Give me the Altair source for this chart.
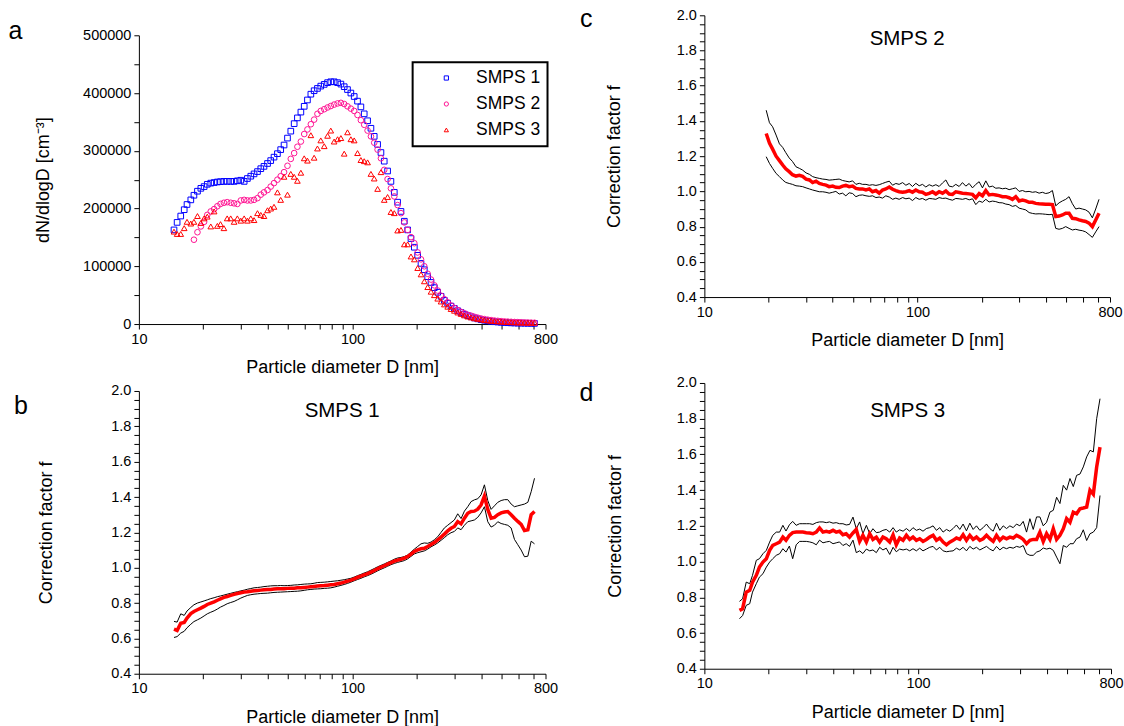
import altair as alt
import pandas as pd

FONT = "Liberation Sans, Arial, Helvetica, sans-serif"

# ---------------- data ----------------
# particle diameter bins [nm] (64 channels / decade)
D = [14.6, 15.1, 15.7, 16.3, 16.8, 17.5, 18.1, 18.8, 19.5, 20.2,
     20.9, 21.7, 22.5, 23.3, 24.1, 25.0, 25.9, 26.9, 27.9, 28.9,
     30.0, 31.1, 32.2, 33.4, 34.6, 35.9, 37.2, 38.5, 40.0, 41.4,
     42.9, 44.5, 46.1, 47.8, 49.6, 51.4, 53.3, 55.2, 57.3, 59.4,
     61.5, 63.8, 66.1, 68.5, 71.0, 73.7, 76.4, 79.1, 82.0, 85.1,
     88.2, 91.4, 94.7, 98.2, 101.8, 105.5, 109.4, 113.4, 117.6, 121.9,
     126.3, 131.0, 135.8, 140.7, 145.9, 151.2, 156.8, 162.5, 168.5, 174.7,
     181.1, 187.7, 194.6, 201.7, 209.1, 216.7, 224.7, 232.9, 241.4, 250.3,
     259.5, 269.0, 278.8, 289.0, 299.6, 310.6, 322.0, 333.8, 346.0, 358.7,
     371.8, 385.4, 399.5, 414.2, 429.4, 445.1, 461.4, 478.3, 495.8, 514.0,
     532.8, 552.3, 572.5, 593.5, 615.3, 637.8, 661.2, 685.4, 710.5]

# dN/dlogD in 1000 cm^-3
smps1 = [163, 176, 187, 198, 207, 215, 223, 230, 235, 238,
         242, 244, 245, 246, 246.5, 247, 247, 247, 247, 248,
         249, 247, 252, 256, 260, 264, 269, 273, 278, 283,
         289, 295, 302, 310, 322, 334, 347, 357, 367, 377,
         388, 398, 404, 408, 412, 415, 418, 419.5, 419.5, 418,
         415.5, 411, 406, 400, 394, 386, 376, 364, 352, 339,
         325, 311, 297, 282, 265, 247, 228, 211, 195, 178,
         163, 148, 133, 119, 105, 94, 82, 72, 63, 55,
         48, 41, 36, 31, 27, 23, 20, 17, 14.5, 12.5,
         10.5, 9, 7.5, 6.5, 5.5, 4.7, 4, 3.5, 3, 2.6,
         2.3, 2, 1.8, 1.6, 1.5, 1.4, 1.3, 1.2, 1.1]
SMPS2_START = 6
smps2 = [146, 159, 169, 177,
         189, 195, 199, 204, 208, 210, 211, 210, 209, 208,
         214, 215, 214, 214, 215, 218, 224, 228, 232, 238,
         244, 250, 256, 263, 274, 286, 296, 307, 316, 329,
         337, 346, 354, 364, 369, 372, 375, 377.5, 380, 382,
         383, 381, 377, 373, 369, 362, 353, 345, 335, 325,
         314, 302, 287, 267, 251, 235, 221, 206, 192, 176,
         163, 150.5, 140, 124, 112, 100, 87, 77, 67, 58,
         49, 43, 37.5, 32, 27.7, 24, 21, 18.5, 16, 14.4,
         12.5, 11, 9.5, 8.5, 7.5, 6.8, 6, 5.5, 5, 4.5,
         4.2, 3.8, 3.5, 3.3, 3, 2.8, 2.6, 2.4, 2.2]
smps3 = [160, 156, 156, 166, 177, 174, 177, 187, 175, 183,
         186, 169, 195, 170, 173, 166, 183, 183, 177, 183,
         179, 183, 179, 183, 180, 192, 189, 187, 197, 200,
         203, 228, 215, 255, 224, 260, 255, 248, 262, 287,
         283, 327, 288, 304, 318, 308, 326, 335, 316, 320,
         322, 295, 332, 320, 318, 296, 284, 282, 280, 260,
         252, 234, 263, 215, 220, 194, 192, 162, 163, 138,
         138, 117, 112, 97, 86, 74, 64, 56, 50, 44,
         39, 34, 30, 26, 23, 20, 17.5, 15, 13, 11.5,
         10, 9, 8, 7, 6.3, 5.6, 5, 4.6, 4.2, 3.8,
         3.5, 3.2, 3, 2.8, 2.6, 2.5, 2.4, 2.3, 2.2]

# correction factor f, SMPS 1 (mean, upper, lower)
b_mean = [0.652, 0.645, 0.686, 0.690, 0.715, 0.740, 0.752, 0.762, 0.771, 0.781,
          0.792, 0.800, 0.807, 0.816, 0.824, 0.832, 0.837, 0.843, 0.849, 0.854,
          0.858, 0.862, 0.864, 0.867, 0.869, 0.871, 0.873, 0.875, 0.877, 0.877,
          0.879, 0.881, 0.881, 0.881, 0.883, 0.884, 0.884, 0.886, 0.886, 0.888,
          0.890, 0.892, 0.894, 0.896, 0.898, 0.899, 0.901, 0.903, 0.905, 0.909,
          0.913, 0.918, 0.924, 0.930, 0.937, 0.945, 0.952, 0.960, 0.967, 0.975,
          0.984, 0.994, 1.003, 1.011, 1.020, 1.029, 1.037, 1.043, 1.048, 1.054,
          1.063, 1.077, 1.092, 1.101, 1.107, 1.110, 1.120, 1.131, 1.142, 1.157,
          1.173, 1.190, 1.208, 1.223, 1.233, 1.261, 1.248, 1.280, 1.308, 1.318,
          1.320, 1.331, 1.355, 1.405, 1.330, 1.280, 1.285, 1.300, 1.310, 1.315,
          1.318, 1.300, 1.280, 1.262, 1.245, 1.210, 1.214, 1.300, 1.318]
b_upper = [0.696, 0.692, 0.739, 0.730, 0.755, 0.775, 0.790, 0.800, 0.806, 0.812,
           0.818, 0.825, 0.830, 0.836, 0.840, 0.845, 0.850, 0.855, 0.860, 0.864,
           0.869, 0.873, 0.878, 0.882, 0.886, 0.888, 0.890, 0.893, 0.895, 0.897,
           0.898, 0.898, 0.899, 0.898, 0.899, 0.900, 0.902, 0.903, 0.905, 0.907,
           0.908, 0.909, 0.912, 0.916, 0.917, 0.918, 0.920, 0.922, 0.924, 0.926,
           0.929, 0.932, 0.936, 0.940, 0.947, 0.955, 0.962, 0.970, 0.977, 0.986,
           0.995, 1.005, 1.013, 1.021, 1.030, 1.038, 1.048, 1.055, 1.058, 1.063,
           1.072, 1.088, 1.105, 1.120, 1.135, 1.140, 1.138, 1.145, 1.158, 1.175,
           1.200, 1.225, 1.240, 1.255, 1.270, 1.305, 1.278, 1.320, 1.345, 1.374,
           1.384, 1.390, 1.412, 1.469, 1.380, 1.330, 1.350, 1.370, 1.380, 1.385,
           1.385, 1.360, 1.345, 1.350, 1.355, 1.360, 1.370, 1.430, 1.506]
b_lower = [0.605, 0.610, 0.630, 0.640, 0.660, 0.680, 0.695, 0.705, 0.715, 0.727,
           0.739, 0.748, 0.756, 0.766, 0.777, 0.786, 0.796, 0.803, 0.809, 0.818,
           0.828, 0.836, 0.843, 0.847, 0.850, 0.852, 0.854, 0.855, 0.856, 0.858,
           0.860, 0.861, 0.862, 0.863, 0.864, 0.865, 0.866, 0.867, 0.869, 0.872,
           0.875, 0.877, 0.879, 0.880, 0.881, 0.883, 0.884, 0.886, 0.890, 0.895,
           0.900, 0.905, 0.911, 0.918, 0.926, 0.933, 0.940, 0.948, 0.955, 0.963,
           0.972, 0.982, 0.991, 0.999, 1.008, 1.017, 1.024, 1.030, 1.035, 1.040,
           1.050, 1.064, 1.078, 1.085, 1.090, 1.095, 1.105, 1.118, 1.128, 1.140,
           1.155, 1.170, 1.186, 1.198, 1.205, 1.225, 1.215, 1.240, 1.260, 1.265,
           1.270, 1.285, 1.310, 1.345, 1.260, 1.230, 1.240, 1.260, 1.250, 1.245,
           1.240, 1.225, 1.160, 1.130, 1.100, 1.062, 1.065, 1.150, 1.135]

# correction factor f, SMPS 2 (starts at bin 8)
C_START = 8
c_mean = [1.329, 1.275,
          1.240, 1.200, 1.175, 1.150, 1.128, 1.112, 1.095, 1.087, 1.091, 1.085,
          1.070, 1.065, 1.050, 1.058, 1.045, 1.040, 1.036, 1.027, 1.030, 1.023,
          1.022, 1.030, 1.034, 1.027, 1.030, 1.017, 1.014, 1.014, 1.008, 1.014,
          0.998, 1.005, 0.990, 1.008, 1.014, 1.025, 1.012, 1.004, 0.998, 0.995,
          0.998, 1.004, 0.995, 1.008, 0.998, 0.995, 0.983, 0.989, 0.998, 0.985,
          0.998, 0.990, 1.002, 0.985, 0.983, 0.998, 0.994, 0.990, 0.988, 0.986,
          0.983, 0.964, 0.988, 0.975, 1.005, 0.980, 0.983, 0.980, 0.976, 0.970,
          0.970, 0.964, 0.955, 0.970, 0.946, 0.951, 0.946, 0.938, 0.938, 0.932,
          0.930, 0.929, 0.927, 0.927, 0.925, 0.857, 0.860, 0.866, 0.876, 0.876,
          0.847, 0.845, 0.838, 0.833, 0.829, 0.820, 0.800, 0.838, 0.876]
c_upper = [1.461, 1.390,
           1.367, 1.320, 1.270, 1.250, 1.220, 1.190, 1.170, 1.140, 1.131, 1.121,
           1.105, 1.097, 1.084, 1.078, 1.074, 1.070, 1.068, 1.064, 1.066, 1.068,
           1.070, 1.062, 1.058, 1.054, 1.060, 1.040, 1.046, 1.040, 1.040, 1.035,
           1.038, 1.034, 1.038, 1.045, 1.052, 1.058, 1.035, 1.045, 1.040, 1.050,
           1.035, 1.045, 1.028, 1.046, 1.032, 1.040, 1.025, 1.038, 1.030, 1.038,
           1.028, 1.048, 1.065, 1.030, 1.026, 1.040, 1.028, 1.050, 1.030, 1.045,
           1.020, 1.040, 1.055, 1.020, 1.060, 1.025, 1.030, 1.018, 1.020, 1.015,
           1.018, 1.010, 1.015, 1.020, 1.000, 1.005, 0.998, 1.000, 0.995, 0.998,
           0.990, 0.995, 0.988, 0.992, 1.005, 0.918, 0.935, 0.946, 0.955, 0.970,
           0.930, 0.900, 0.905, 0.900, 0.895, 0.882, 0.850, 0.900, 0.955]
c_lower = [1.197, 1.159,
           1.131, 1.102, 1.084, 1.065, 1.051, 1.045, 1.040, 1.032, 1.030, 1.027,
           1.020, 1.014, 1.008, 1.003, 0.998, 0.998, 0.995, 0.990, 0.995, 1.000,
           0.985, 0.990, 0.975, 0.992, 0.988, 0.970, 0.978, 0.980, 0.975, 0.972,
           0.975, 0.965, 0.968, 0.962, 0.975, 0.968, 0.955, 0.962, 0.955, 0.965,
           0.958, 0.962, 0.948, 0.965, 0.955, 0.960, 0.950, 0.960, 0.958, 0.955,
           0.965, 0.960, 0.962, 0.955, 0.950, 0.960, 0.958, 0.955, 0.960, 0.952,
           0.958, 0.925, 0.945, 0.938, 0.955, 0.940, 0.945, 0.942, 0.936, 0.935,
           0.928, 0.925, 0.915, 0.920, 0.905, 0.900, 0.895, 0.880, 0.875, 0.872,
           0.873, 0.872, 0.870, 0.868, 0.870, 0.790, 0.785, 0.790, 0.800, 0.790,
           0.781, 0.785, 0.780, 0.777, 0.770, 0.755, 0.739, 0.770, 0.800]

# correction factor f, SMPS 3
d_mean = [0.727, 0.736, 0.829, 0.839, 0.885, 0.923, 0.969, 0.997, 1.016, 1.063,
          1.091, 1.100, 1.109, 1.137, 1.119, 1.147, 1.162, 1.165, 1.165, 1.165,
          1.162, 1.160, 1.156, 1.165, 1.188, 1.165, 1.169, 1.165, 1.175, 1.165,
          1.170, 1.150, 1.156, 1.137, 1.160, 1.180, 1.113, 1.147, 1.109, 1.156,
          1.124, 1.137, 1.109, 1.137, 1.128, 1.109, 1.150, 1.094, 1.132, 1.119,
          1.147, 1.124, 1.137, 1.119, 1.128, 1.113, 1.124, 1.137, 1.147, 1.119,
          1.132, 1.109, 1.094, 1.109, 1.119, 1.132, 1.124, 1.150, 1.119, 1.147,
          1.124, 1.137, 1.119, 1.128, 1.147, 1.128, 1.113, 1.147, 1.119, 1.137,
          1.128, 1.137, 1.132, 1.147, 1.137, 1.124, 1.100, 1.119, 1.124, 1.124,
          1.165, 1.113, 1.156, 1.124, 1.184, 1.124, 1.147, 1.184, 1.240, 1.220,
          1.277, 1.268, 1.296, 1.300, 1.305, 1.400, 1.377, 1.530, 1.641]
d_upper = [0.777, 0.792, 0.885, 0.876, 0.923, 1.007, 1.016, 1.044, 1.063, 1.109,
           1.147, 1.165, 1.165, 1.203, 1.171, 1.206, 1.225, 1.203, 1.212, 1.212,
           1.212, 1.212, 1.208, 1.218, 1.222, 1.222, 1.218, 1.222, 1.215, 1.218,
           1.212, 1.212, 1.205, 1.208, 1.249, 1.184, 1.222, 1.156, 1.203, 1.156,
           1.184, 1.162, 1.165, 1.175, 1.180, 1.165, 1.190, 1.165, 1.178, 1.170,
           1.185, 1.170, 1.190, 1.175, 1.182, 1.170, 1.185, 1.190, 1.200, 1.175,
           1.190, 1.165, 1.180, 1.170, 1.185, 1.205, 1.180, 1.210, 1.172, 1.215,
           1.180, 1.200, 1.175, 1.190, 1.210, 1.185, 1.170, 1.215, 1.175, 1.200,
           1.185, 1.200, 1.190, 1.210, 1.200, 1.225, 1.165, 1.240, 1.180, 1.250,
           1.250, 1.200, 1.220, 1.277, 1.287, 1.360, 1.325, 1.427, 1.400, 1.465,
           1.420, 1.483, 1.490, 1.530, 1.586, 1.623, 1.614, 1.800, 1.912]
d_lower = [0.680, 0.698, 0.755, 0.764, 0.829, 0.876, 0.913, 0.932, 0.969, 0.997,
           1.016, 1.035, 1.044, 1.072, 1.053, 1.087, 1.016, 1.094, 1.113, 1.113,
           1.113, 1.110, 1.105, 1.094, 1.120, 1.105, 1.110, 1.113, 1.100, 1.105,
           1.110, 1.090, 1.100, 1.085, 1.120, 1.050, 1.060, 1.045, 1.070, 1.060,
           1.065, 1.050, 1.080, 1.065, 1.075, 1.040, 1.080, 1.055, 1.070, 1.065,
           1.070, 1.060, 1.072, 1.060, 1.075, 1.060, 1.070, 1.080, 1.085, 1.065,
           1.080, 1.060, 1.055, 1.058, 1.060, 1.075, 1.065, 1.080, 1.060, 1.085,
           1.070, 1.080, 1.065, 1.075, 1.085, 1.070, 1.060, 1.085, 1.065, 1.080,
           1.072, 1.080, 1.075, 1.085, 1.080, 1.090, 1.044, 1.035, 1.035, 1.053,
           1.060, 1.076, 1.070, 1.075, 1.063, 1.025, 0.988, 1.090, 1.080, 1.100,
           1.100, 1.128, 1.137, 1.178, 1.118, 1.156, 1.165, 1.190, 1.370]

SERIES = ["SMPS 1", "SMPS 2", "SMPS 3"]
SERIES_COLORS = ["#0000FF", "#FF1493", "#FF0000"]
SERIES_SHAPES = ["square", "circle", "triangle-up"]
X_TICKS = [10, 20, 30, 40, 50, 60, 70, 80, 90, 100, 200, 300, 400, 500, 600, 700, 800]
Y_A_TICKS = [0, 50000, 100000, 150000, 200000, 250000, 300000, 350000, 400000, 450000, 500000]
Y_F_TICKS = [0.4, 0.45, 0.5, 0.55, 0.6, 0.65, 0.7, 0.75, 0.8, 0.85, 0.9, 0.95, 1.0,
             1.05, 1.1, 1.15, 1.2, 1.25, 1.3, 1.35, 1.4, 1.45, 1.5, 1.55, 1.6, 1.65,
             1.7, 1.75, 1.8, 1.85, 1.9, 1.95, 2.0]

# ---------------- tables ----------------
rows = []
for name, vals, start in [("SMPS 1", smps1, 0), ("SMPS 2", smps2, SMPS2_START), ("SMPS 3", smps3, 0)]:
    assert len(vals) + start == len(D), (name, len(vals))
    for k, v in enumerate(vals):
        rows.append({"D": D[start + k], "N": v * 1000, "series": name})
df_a = pd.DataFrame(rows)


def lines_df(mean, upper, lower, start=0):
    out = []
    for kind, vals in [("upper", upper), ("lower", lower), ("mean", mean)]:
        assert len(vals) + start == len(D), (kind, len(vals))
        for k, v in enumerate(vals):
            out.append({"D": D[start + k], "f": v, "kind": kind})
    return pd.DataFrame(out)


df_b = lines_df(b_mean, b_upper, b_lower)
df_c = lines_df(c_mean, c_upper, c_lower, C_START)
df_d = lines_df(d_mean, d_upper, d_lower)


# ---------------- helpers ----------------
def x_enc():
    return alt.X(
        "D:Q",
        scale=alt.Scale(type="log", domain=[10, 800], nice=False),
        axis=alt.Axis(
            values=X_TICKS,
            labelExpr="(datum.value == 10 || datum.value == 100 || datum.value == 800) ? format(datum.value, 'd') : ''",
            title="Particle diameter D [nm]",
            tickSize=5, labelPadding=3, titlePadding=13,
            labelOverlap=False, labelFlush=False, grid=False,
        ),
    )


def y_f_enc(title_pad):
    return alt.Y(
        "f:Q",
        scale=alt.Scale(domain=[0.4, 2.0], nice=False, zero=False),
        axis=alt.Axis(
            values=Y_F_TICKS,
            labelExpr="(round(datum.value * 100) % 20 == 0) ? format(datum.value, '.1f') : ''",
            title="Correction factor f",
            tickSize=5, labelPadding=3, titlePadding=title_pad,
            labelOverlap=False, grid=False,
        ),
    )


def text_layer(txt, x, y, size, align="left", baseline="alphabetic", opacity=1.0):
    return alt.Chart(pd.DataFrame({"t": [txt]})).mark_text(
        font=FONT, fontSize=size, align=align, baseline=baseline,
        color="black", opacity=opacity,
    ).encode(text="t:N", x=alt.value(x), y=alt.value(y))


def spacer(x, y, align="left", baseline="top"):
    return text_layer(".", x, y, 1, align=align, baseline=baseline, opacity=0)


def f_panel(df, w, h, label, label_xy, smps, smps_y, title_pad, extra=None):
    base = alt.Chart(df)
    black = base.transform_filter("datum.kind != 'mean'").mark_line(
        color="black", strokeWidth=1
    ).encode(x=x_enc(), y=y_f_enc(title_pad), detail="kind:N")
    red = base.transform_filter("datum.kind == 'mean'").mark_line(
        color="#FF0000", strokeWidth=3.5
    ).encode(x=x_enc(), y=y_f_enc(title_pad))
    layers = [black, red,
              text_layer(smps, w / 2, smps_y, 20.5, align="center"),
              text_layer(label, label_xy[0], label_xy[1], 25)]
    if extra:
        layers += extra
    return alt.layer(*layers).properties(width=w, height=h)


# ---------------- panel a ----------------
WA, HA = 407, 289
LEG = dict(orient="none", legendX=274, legendY=47, direction="vertical")
pts = alt.Chart(df_a).mark_point(filled=False, size=32, strokeWidth=1, opacity=1).encode(
    x=x_enc(),
    y=alt.Y(
        "N:Q",
        scale=alt.Scale(domain=[0, 500000], nice=False),
        axis=alt.Axis(
            values=Y_A_TICKS,
            labelExpr="(datum.value % 100000 == 0) ? format(datum.value, 'd') : ''",
            title="dN/dlogD [cm⁻³]",
            tickSize=5, labelPadding=3, titlePadding=30,
            labelOverlap=False, grid=False,
        ),
    ),
    color=alt.Color(
        "series:N", title=None,
        scale=alt.Scale(domain=SERIES, range=SERIES_COLORS),
        legend=alt.Legend(**LEG),
    ),
    shape=alt.Shape(
        "series:N", title=None,
        scale=alt.Scale(domain=SERIES, range=SERIES_SHAPES),
        legend=alt.Legend(**LEG),
    ),
    order=alt.Order("series:N"),
)
panel_a = alt.layer(
    pts,
    text_layer("a", -130.6, 4, 25),
    spacer(-138.6, -35),
    spacer(426.4, 100, align="right", baseline="middle"),
).properties(width=WA, height=HA)

panel_b = f_panel(df_b, 407, 283, "b", (-125, 23), "SMPS 1", 25.7, 55)
panel_c = f_panel(df_c, 406, 282, "c", (-124.4, 11.7), "SMPS 2", 29.3, 53,
                  extra=[spacer(-138.2, -15)])
panel_d = f_panel(df_d, 407, 286, "d", (-125, 18), "SMPS 3", 34, 52)

# invisible 1px view that pushes the left column 20px below the right one
top_gap = alt.Chart(pd.DataFrame({"t": ["."]})).mark_text(opacity=0, fontSize=1).encode(
    text="t:N", x=alt.value(0), y=alt.value(0)
).properties(width=1, height=1)

left = alt.vconcat(
    top_gap,
    alt.vconcat(panel_a, panel_b, spacing=67, bounds="flush"),
    spacing=19, bounds="flush",
)
right = alt.vconcat(panel_c, panel_d, spacing=86, bounds="flush")

chart = alt.hconcat(left, right, spacing=0).properties(
    padding={"left": 0, "top": 0, "right": 0, "bottom": 0},
    background="white",
).configure_axis(
    labelFont=FONT, titleFont=FONT, labelFontSize=14.5, titleFontSize=18,
    titleFontWeight="normal", labelColor="black", titleColor="black",
    domainColor="black", tickColor="black", domainWidth=1, tickWidth=1, grid=False,
).configure_view(
    strokeWidth=0,
).configure_legend(
    labelFont=FONT, labelFontSize=17.5, labelColor="black",
    padding=7, rowPadding=7, symbolOffset=18, labelOffset=21,
    strokeColor="black", strokeWidth=2, symbolSize=18, symbolStrokeWidth=1,
    fillColor="white",
)

chart.save("out.html", embed_options={"renderer": "svg", "actions": False})
